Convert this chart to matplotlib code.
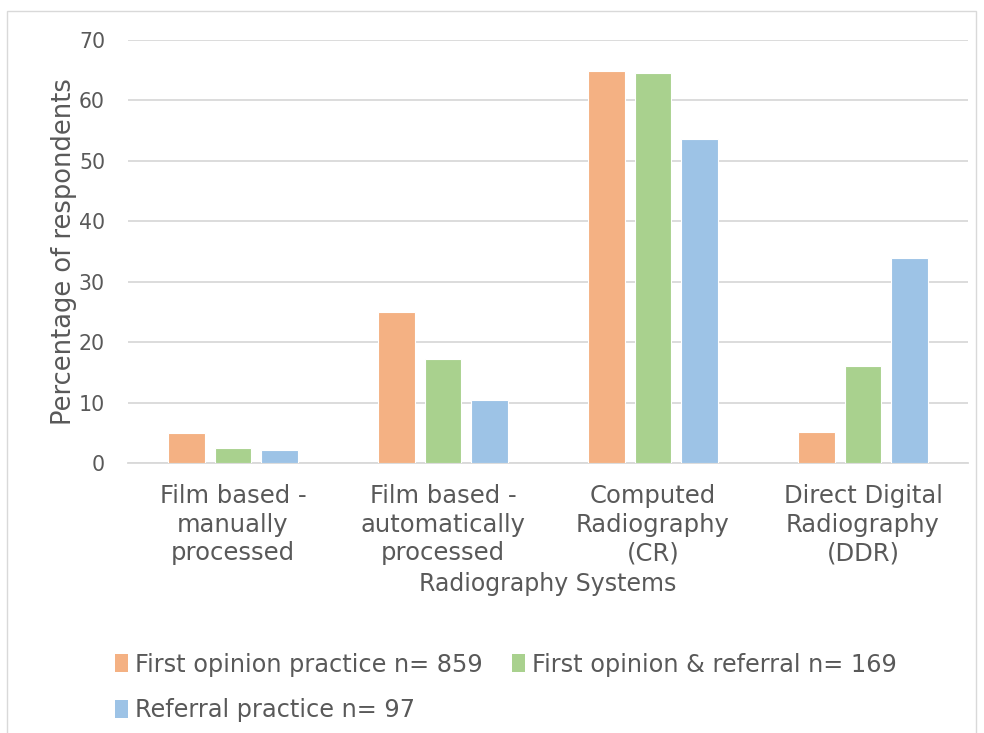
import matplotlib.pyplot as plt
import numpy as np
from matplotlib.patches import Rectangle, Patch

categories = ['Film based -\nmanually\nprocessed',
              'Film based -\nautomatically\nprocessed',
              'Computed\nRadiography\n(CR)',
              'Direct Digital\nRadiography\n(DDR)']
series_names = ['First opinion practice n= 859',
                'First opinion & referral n= 169',
                'Referral practice n= 97']
first_opinion = [4.9, 25.0, 64.9, 5.2]
first_and_referral = [2.4, 17.2, 64.5, 16.0]
referral = [2.1, 10.4, 53.6, 34.0]
yticks = [0, 10, 20, 30, 40, 50, 60, 70]

colors = ['#F4B183', '#A9D18E', '#9DC3E6']
textc = '#595959'

fig = plt.figure(figsize=(9.84, 7.33), dpi=100)
# chart border like excel
fig.patches.append(Rectangle((7/984, -0.05), 969/984, 1.05 - 11/733,
                             transform=fig.transFigure, fill=False,
                             edgecolor='#D9D9D9', lw=1))

ax = fig.add_axes([128/984, 1 - 463/733, 840/984, 423/733])
x = np.arange(len(categories))
w = 0.176
step = 0.222
data = [first_opinion, first_and_referral, referral]
for i, vals in enumerate(data):
    ax.bar(x + (i - 1) * step, vals, w, color=colors[i],
           edgecolor='white', linewidth=0.8, zorder=3)

ax.set_xlim(-0.5, 3.5)
ax.set_ylim(0, 70)
ax.set_yticks(yticks)
ax.yaxis.grid(True, color='#D9D9D9', lw=1.3, zorder=0)
for s in ['top', 'right', 'left']:
    ax.spines[s].set_visible(False)
ax.spines['bottom'].set_color('#D9D9D9')
ax.spines['bottom'].set_linewidth(1.3)
ax.tick_params(axis='both', length=0, colors=textc)
ax.tick_params(axis='y', pad=16.5, labelsize=14.8)
ax.tick_params(axis='x', pad=15)
ax.set_xticks(x)
ax.set_xticklabels(categories, fontsize=17.5, linespacing=1.25, color=textc)
ax.set_ylabel('Percentage of respondents', fontsize=18.5, color=textc, labelpad=1)
ax.set_xlabel('Radiography Systems', fontsize=17, color=textc, labelpad=5)

handles = [Patch(facecolor=c) for c in colors]
order = [0, 2, 1]
leg = fig.legend([handles[k] for k in order], [series_names[k] for k in order],
                 ncol=2, loc='upper left', bbox_to_anchor=(105/984, 1 - 643/733),
                 frameon=False, fontsize=17.3, handlelength=0.55, handleheight=0.8,
                 handletextpad=0.3, columnspacing=1.2, labelspacing=0.9,
                 borderaxespad=0)
for t in leg.get_texts():
    t.set_color(textc)

fig.savefig('out.png', dpi=100)
